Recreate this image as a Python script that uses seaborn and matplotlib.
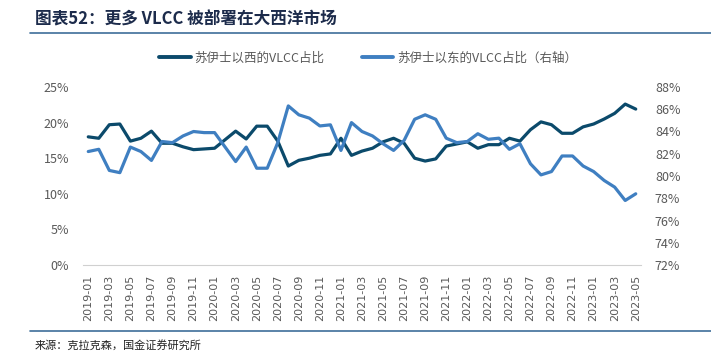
import numpy as np
import pandas as pd
import matplotlib.pyplot as plt
import matplotlib.ticker as mticker
from matplotlib.lines import Line2D
import seaborn as sns

months = pd.period_range("2019-01", "2023-05", freq="M").strftime("%Y-%m").tolist()

# share of VLCC west of Suez (left axis, %)
west = [18.0, 17.8, 19.7, 19.8, 17.4, 17.8, 18.8, 17.1, 17.1, 16.6,
        16.2, 16.3, 16.4, 17.6, 18.8, 17.7, 19.5, 19.5, 17.4, 13.9,
        14.7, 15.0, 15.4, 15.6, 17.8, 15.4, 16.0, 16.4, 17.3, 17.8,
        17.1, 15.0, 14.6, 14.9, 16.7, 17.0, 17.3, 16.4, 16.9, 16.9,
        17.8, 17.4, 19.0, 20.1, 19.7, 18.5, 18.5, 19.4, 19.8, 20.5,
        21.3, 22.6, 21.9]

# share of VLCC east of Suez (right axis, %)
east = [82.2, 82.4, 80.5, 80.3, 82.6, 82.2, 81.4, 83.1, 83.0, 83.6,
        84.0, 83.9, 83.9, 82.6, 81.3, 82.6, 80.7, 80.7, 83.0, 86.3,
        85.5, 85.2, 84.5, 84.6, 82.3, 84.8, 84.0, 83.6, 82.9, 82.3,
        83.2, 85.1, 85.5, 85.1, 83.4, 83.0, 83.1, 83.8, 83.3, 83.4,
        82.4, 82.9, 81.1, 80.1, 80.4, 81.8, 81.8, 80.9, 80.4, 79.6,
        79.0, 77.8, 78.4]

west_label = "苏伊士以西的VLCC占比"
east_label = "苏伊士以东的VLCC占比（右轴）"
title = "图表52：更多 VLCC 被部署在大西洋市场"
source = "来源：克拉克森，国金证券研究所"

sns.set_style("white")
plt.rcParams['font.family'] = ['Noto Sans CJK SC', 'DejaVu Sans']

dark = "#0B4A6B"
light = "#3F7FC1"
gray = "#595959"

df = pd.DataFrame({"i": np.arange(len(months)), "west": west, "east": east})

fig = plt.figure(figsize=(7.11, 3.58), dpi=100)
ax = fig.add_axes([83 / 711, 1 - 265 / 358, (641 - 83) / 711, (265 - 87) / 358])
ax2 = ax.twinx()

sns.lineplot(data=df, x="i", y="west", ax=ax, color=dark, linewidth=2.3)
sns.lineplot(data=df, x="i", y="east", ax=ax2, color=light, linewidth=2.3)

ax.set_xlim(-0.5, len(months) - 0.5)
ax.set_ylim(0, 25)
ax2.set_ylim(72, 88)
ax.set_yticks(np.arange(0, 26, 5))
ax2.set_yticks(np.arange(72, 89, 2))
ax.yaxis.set_major_formatter(mticker.FuncFormatter(lambda v, p: f"{v:.0f}%"))
ax2.yaxis.set_major_formatter(mticker.FuncFormatter(lambda v, p: f"{v:.0f}%"))

ax.set_xticks(np.arange(0, len(months), 2))
ax.set_xticklabels(months[::2], rotation=90, fontsize=8, color=gray,
                   family=['DejaVu Sans'])
ax.set_xticks(np.arange(-0.5, len(months), 2), minor=True)
ax.tick_params(axis="x", which="major", length=0, pad=7)
ax.tick_params(axis="x", which="minor", length=3, color="#D0D0D0", direction="in")
ax.tick_params(axis="y", length=0, labelsize=9, labelcolor=gray, pad=10)
ax2.tick_params(axis="y", length=0, labelsize=9, labelcolor=gray, pad=10)
ax.set_xlabel("")
ax.set_ylabel("")
ax2.set_ylabel("")

for a in (ax, ax2):
    for s in ("top", "left", "right"):
        a.spines[s].set_visible(False)
    a.spines["bottom"].set_color("#D0D0D0")
ax2.spines["bottom"].set_visible(False)

handles = [Line2D([], [], color=dark, lw=2.8), Line2D([], [], color=light, lw=2.8)]
fig.legend(handles, [west_label, east_label], ncol=2, loc="center",
           bbox_to_anchor=(368 / 711, 1 - 58 / 358), frameon=False,
           fontsize=9, labelcolor=gray, handlelength=2.5, handletextpad=0.3,
           columnspacing=3.0)

fig.text(35 / 711, 1 - 20 / 358, title, fontsize=12, fontweight="bold",
         fontstyle="italic", color="#1C2B4B", va="center", ha="left")
fig.add_artist(Line2D([30 / 711, 1], [1 - 33 / 358, 1 - 33 / 358],
                      color="#3E6E99", lw=1.2))
fig.add_artist(Line2D([30 / 711, 1], [1 - 331 / 358, 1 - 331 / 358],
                      color="#3E6E99", lw=1.2))
fig.text(35 / 711, 1 - 345 / 358, source, fontsize=8, color="#222222",
         va="center", ha="left")

fig.savefig("out.png", dpi=100)
